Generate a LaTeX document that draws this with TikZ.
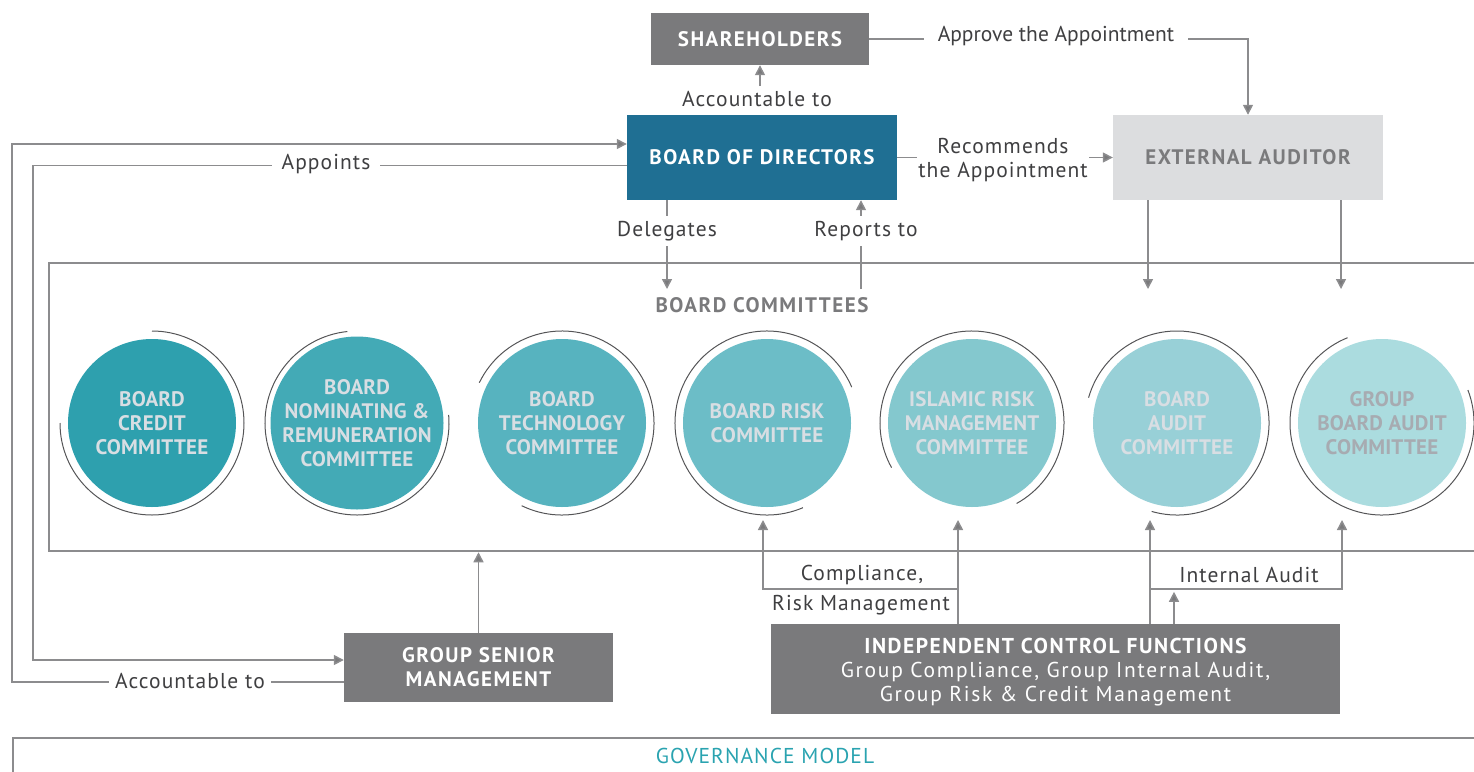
\documentclass[tikz,border=0pt]{standalone}
\usepackage{fontspec}
\setmainfont{PT Sans}
\newfontfamily\lblfont{PT Sans}[LetterSpace=5]
\newfontfamily\widefont{PT Sans}[LetterSpace=8]
\newfontfamily\capsfont{PT Sans}[LetterSpace=7]
\newfontfamily\circfont{PT Sans}[LetterSpace=1]
\newfontfamily\plainfont{PT Sans}
\usetikzlibrary{arrows.meta}

\definecolor{boxgray}{HTML}{7A7A7C}
\definecolor{bodblue}{HTML}{1F6F93}
\definecolor{eagray}{HTML}{DCDDDF}
\definecolor{linegray}{HTML}{8C8C8E}
\definecolor{labeltext}{HTML}{3F3F41}
\definecolor{ringgray}{HTML}{555557}
\definecolor{circtext}{HTML}{D8DEE3}
\definecolor{circtextdim}{HTML}{A7ABB1}
\definecolor{govteal}{HTML}{2AA3B0}
\definecolor{tA}{HTML}{2EA0AE}
\definecolor{tB}{HTML}{43AAB6}
\definecolor{tC}{HTML}{57B3BF}
\definecolor{tD}{HTML}{6CBDC7}
\definecolor{tE}{HTML}{84C8CE}
\definecolor{tF}{HTML}{98D0D7}
\definecolor{tG}{HTML}{ABDCDF}

\begin{document}
\begin{tikzpicture}[x=1pt, y=-1pt,
  bigfont/.style={font=\capsfont\fontsize{21}{24}\selectfont\bfseries},
  txtfont/.style={font=\lblfont\fontsize{21.5}{24}\selectfont},
  darkbox/.style={fill=boxgray, text=white, inner sep=0pt, align=center, txtfont},
  bluebox/.style={fill=bodblue, text=white, inner sep=0pt, align=center, bigfont},
  lightbox/.style={fill=eagray, text=boxgray, inner sep=0pt, align=center, bigfont},
  circ/.style={circle, minimum size=168pt, inner sep=0pt, align=center, text=circtext,
    font=\circfont\fontsize{21}{24}\selectfont\bfseries},
  ring/.style={draw=ringgray, line width=1pt},
  conn/.style={draw=linegray, line width=1.5pt},
  arr/.style={conn, -{Triangle[length=10pt, width=10pt, fill=boxgray]}},
  lbl/.style={txtfont, text=labeltext, fill=white, inner xsep=8pt, inner ysep=5pt, align=center},
]
\useasboundingbox (0,0) rectangle (1474,771);
\clip (0,0) rectangle (1474,771);

% frames
\node[draw=linegray, line width=2.5pt, minimum width=1441pt, minimum height=288pt, inner sep=0pt] (cbox) at (769.5,407) {};
\node[draw=linegray, line width=1.5pt, minimum width=1480pt, minimum height=60pt, inner sep=0pt, anchor=north west] (gbox) at (12,737) {};
\node[txtfont, text=govteal] (gov) at (765,756) {GOVERNANCE MODEL};

% main boxes
\node[darkbox, bigfont, minimum width=218pt, minimum height=52pt] (sh) at (760,39) {SHAREHOLDERS};
\node[bluebox, minimum width=270pt, minimum height=85pt] (bod) at (762,157.5) {BOARD OF DIRECTORS};
\node[lightbox, minimum width=270pt, minimum height=85pt] (ea) at (1248,157.5) {EXTERNAL AUDITOR};
\node[darkbox, bigfont, minimum width=269pt, minimum height=69pt] (gsm) at (478.5,667.5) {GROUP SENIOR\\MANAGEMENT};
\node[darkbox, minimum width=569pt, minimum height=90pt] (icf) at (1055.5,669) {};
\node[align=center, text=white, txtfont] (icft) at (1055.5,672)
  {{\capsfont\bfseries INDEPENDENT CONTROL FUNCTIONS}\\{\widefont Group Compliance, Group Internal Audit,}\\{\widefont Group Risk \& Credit Management}};

\node[bigfont, text=boxgray] (bclab) at (762,305) {BOARD COMMITTEES};

% committees
\node[circ, fill=tA] (c1) at (152,423) {BOARD\\CREDIT\\COMMITTEE};
\node[circ, fill=tB] (c2) at (357,423) {BOARD\\NOMINATING \&\\REMUNERATION\\COMMITTEE};
\node[circ, fill=tC] (c3) at (562,423) {BOARD\\TECHNOLOGY\\COMMITTEE};
\node[circ, fill=tD] (c4) at (767,423) {BOARD RISK\\COMMITTEE};
\node[circ, fill=tE] (c5) at (972,423) {ISLAMIC RISK\\MANAGEMENT\\COMMITTEE};
\node[circ, fill=tF] (c6) at (1177,423) {BOARD\\AUDIT\\COMMITTEE};
\node[circ, fill=tG, text=circtextdim] (c7) at (1382,423) {GROUP\\BOARD AUDIT\\COMMITTEE};

% open rings around the committees
\foreach \n/\a/\b in {c1/90/-180, c2/96/365, c3/154/-116, c4/23/293, c5/209/-61, c6/164/-106, c7/112/381}
  \draw[ring] (\n.center) ++(\a:92pt) arc[start angle=\a, end angle=\b, radius=92pt];

% helper coordinates
\coordinate (tips) at (0,520);
\coordinate (jy) at (0,589);
\coordinate (cmtop) at (0,289);
\coordinate (c4in) at ([xshift=-4pt]c4.south);
\coordinate (c7in) at ([xshift=-40pt]c7.south);
\coordinate (cr) at ([xshift=-97.5pt]icf.north);
\coordinate (ia) at ([xshift=94.5pt]icf.north);
\coordinate (dl) at ([xshift=-95pt]bod.south);
\coordinate (rp) at ([xshift=99pt]bod.south);
\coordinate (ea1) at ([xshift=-100pt]ea.south);
\coordinate (ea2) at ([xshift=93pt]ea.south);

% connectors
\draw[arr] (sh.east) -| (ea.north);
\draw[arr] (bod.east) -- (ea.west);
\draw[arr] (dl) -- (dl |- cmtop);
\draw[arr] (rp |- cmtop) -- (rp);
\draw[arr] (ea1) -- (ea1 |- cmtop);
\draw[arr] (ea2) -- (ea2 |- cmtop);
\draw[arr] ([yshift=-8pt]bod.west) -- ++(-594,0) |- ([yshift=7.5pt]gsm.west);
\draw[arr] ([yshift=-14.5pt]gsm.west) -- ++(-332,0) |- ([yshift=13.5pt]bod.west);
\draw[arr] (gsm.north) -- (gsm.north |- cbox.south);
\draw[arr] (cr) -- (cr |- tips);
\draw[arr] (cr |- jy) -| (c4in |- tips);
\draw[arr] (ia) -- (ia |- tips);
\draw[arr] (ia |- jy) -| (c7in |- tips);
\draw[arr] ([xshift=118.5pt]icf.north) -- ++(0,-32);

% connector labels
\node[lbl, inner xsep=14pt] (apl) at (1056,36) {\plainfont Approve the Appointment};
\node[lbl, fill=none] (acl) at (757,99) {Accountable to};
\draw[arr] (acl.north -| sh.south) -- (sh.south);
\node[lbl, inner xsep=1pt, inner ysep=1pt] (rcl) at (1003,160) {Recommends\\the Appointment};
\node[lbl, inner xsep=10pt] (apt) at (326,164) {Appoints};
\node[lbl, inner xsep=6pt] (acg) at (190,681) {Accountable to};
\node[lbl] (dlg) at (667,231) {Delegates};
\node[lbl] (rpt) at (866,231) {Reports to};
\node[lbl, fill=none] (cpl) at (862,575) {Compliance,};
\node[lbl, fill=none] (rml) at (861,605) {Risk Management};
\node[lbl, fill=none] (ial) at (1249,575) {Internal Audit};
\end{tikzpicture}
\end{document}
